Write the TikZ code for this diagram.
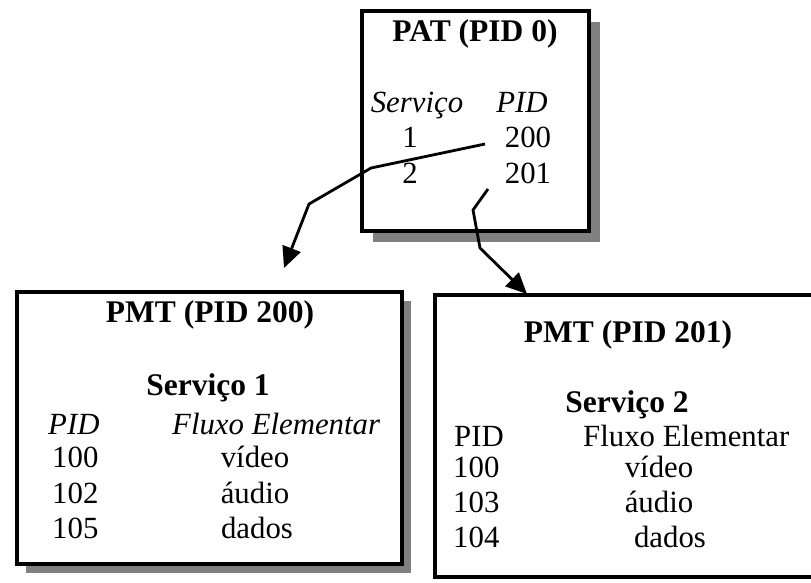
\documentclass[tikz,border=0pt]{standalone}
\usepackage{fontspec}
\setmainfont{Liberation Serif}
\usetikzlibrary{arrows.meta,shadows}
\tikzset{
  tablebox/.style={draw=black, line width=3.2pt, fill=white, inner sep=0pt},
  shadowed/.style={drop shadow={shadow xshift=#1, shadow yshift=-#1, fill=black!50, opacity=1}},
  txt/.style={inner sep=0pt, anchor=base, font=\fontsize{30.8}{36}\selectfont},
  txtl/.style={txt, anchor=base west},
  ttl/.style={txt, font=\fontsize{31.5}{36}\selectfont\bfseries},
  link/.style={line width=2.8pt, line join=round, -{Triangle[length=21pt,width=19pt]}}
}
\begin{document}
\begin{tikzpicture}[x=1pt,y=-1pt]
\useasboundingbox (0,0) rectangle (811,582);
\clip (0,0) rectangle (811,582);
\fill[white] (0,0) rectangle (811,582);
% boxes
\node[tablebox, shadowed=11pt, minimum width=227pt, minimum height=220pt] (pat) at (475.5,121) {};
\node[tablebox, shadowed=9pt, minimum width=385pt, minimum height=272pt] (pmta) at (209.5,428) {};
\node[tablebox, minimum width=395pt, minimum height=282pt] (pmtb) at (632.5,436) {};
% PAT texts
\node[ttl] (pattitle) at (475,41) {PAT (PID 0)};
\node[txt] (paths) at (417,112) {\itshape Serviço};
\node[txt] (pathp) at (522,112) {\itshape PID};
\node[txt] (pats1) at (410,147) {1};
\node[txt] (patp1) at (528,147) {200};
\node[txt] (pats2) at (410,183) {2};
\node[txt] (patp2) at (528,183) {201};
% PMT 200 texts
\node[ttl] (atitle) at (210,322) {PMT (PID 200)};
\node[ttl] (aserv) at (208,395) {Serviço 1};
\node[txtl] (ahp) at (48,434) {\itshape PID};
\node[txtl] (ahf) at (172,434) {\itshape Fluxo Elementar};
\node[txtl] (ap1) at (52,467) {100};
\node[txt] (af1) at (255,467) {vídeo};
\node[txtl] (ap2) at (52,503) {102};
\node[txt] (af2) at (255,503) {áudio};
\node[txtl] (ap3) at (52,538) {105};
\node[txt] (af3) at (257,538) {dados};
% PMT 201 texts
\node[ttl] (btitle) at (628,342) {PMT (PID 201)};
\node[ttl] (bserv) at (627,412) {Serviço 2};
\node[txtl] (bhp) at (454,446) {PID};
\node[txtl] (bhf) at (583,446) {Fluxo Elementar};
\node[txtl] (bp1) at (453,477) {100};
\node[txt] (bf1) at (659,477) {vídeo};
\node[txtl] (bp2) at (453,512) {103};
\node[txt] (bf2) at (659,512) {áudio};
\node[txtl] (bp3) at (453,547) {104};
\node[txt] (bf3) at (670,547) {dados};
% connectors
\coordinate (a1s) at (485,144);
\coordinate (a1b) at (371,168);
\coordinate (a1c) at (309,204);
\coordinate (a1t) at (284,268);
\coordinate (a2s) at (488,189);
\coordinate (a2b) at (473,210);
\coordinate (a2c) at (480,248);
\coordinate (a2t) at (527,294);
\draw[link] (a1s) -- (a1b) -- (a1c) -- (a1t);
\draw[link] (a2s) -- (a2b) -- (a2c) -- (a2t);
\end{tikzpicture}
\end{document}
